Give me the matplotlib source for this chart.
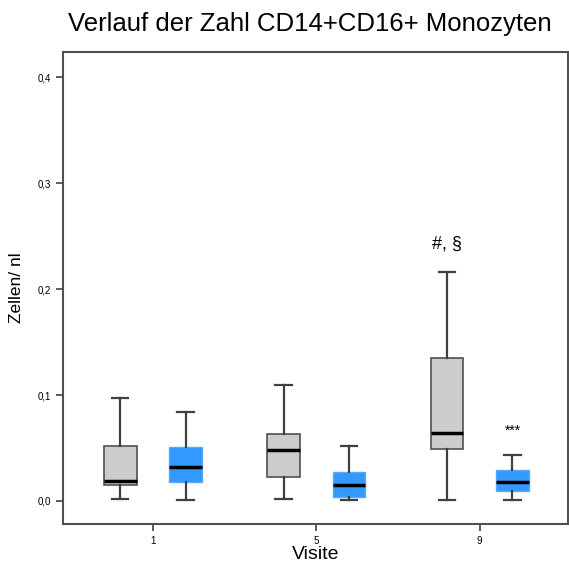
import numpy as np
import matplotlib
matplotlib.use('Agg')
from matplotlib import pyplot

#
# data
#

visits = ['1', '5', '9']

# control group (grey)
grey_whislo = [0.002, 0.002, 0.001]
grey_q1 = [0.015, 0.023, 0.049]
grey_med = [0.019, 0.048, 0.064]
grey_q3 = [0.052, 0.063, 0.135]
grey_whishi = [0.097, 0.109, 0.216]

# treatment group (blue)
blue_whislo = [0.001, 0.001, 0.0005]
blue_q1 = [0.018, 0.0035, 0.0095]
blue_med = [0.032, 0.015, 0.018]
blue_q3 = [0.051, 0.027, 0.029]
blue_whishi = [0.084, 0.052, 0.043]

annotations = [('#, §', 2 - 0.2, 0.242), ('***', 2 + 0.2, 0.066)]


def make_stats(lo, q1, med, q3, hi):
    return [dict(whislo=a, q1=b, med=c, q3=d, whishi=e, fliers=[])
            for a, b, c, d, e in zip(lo, q1, med, q3, hi)]


pyplot.rcParams['font.family'] = ['Liberation Sans', 'DejaVu Sans']

fig = pyplot.figure(figsize=(5.69, 5.65), dpi=100)
ax = fig.add_axes([63 / 569, 41 / 565, 505 / 569, 472 / 565])

pos = np.arange(len(visits))
common = dict(widths=0.2, showfliers=False, patch_artist=True,
              whiskerprops=dict(color='#404040', lw=1.6),
              capprops=dict(color='#404040', lw=1.6),
              medianprops=dict(color='black', lw=2.5))

g = ax.bxp(make_stats(grey_whislo, grey_q1, grey_med, grey_q3, grey_whishi),
           positions=pos - 0.2, **common)
for b in g['boxes']:
    b.set_facecolor('#cccccc')
    b.set_edgecolor('#505050')
    b.set_linewidth(1.2)

bl = ax.bxp(make_stats(blue_whislo, blue_q1, blue_med, blue_q3, blue_whishi),
            positions=pos + 0.2, **common)
for b in bl['boxes']:
    b.set_facecolor('#3399ff')
    b.set_edgecolor('#55aaff')
    b.set_linewidth(1.0)

for txt, x, y in annotations:
    ax.text(x, y, txt, ha='center', va='center', fontsize=13 if '#' in txt else 10)

ax.set_xlim(-0.55, 2.54)
ax.set_ylim(-0.0217, 0.4236)
ax.set_xticks(pos)
ax.set_xticklabels(visits)
ax.set_yticks([0.0, 0.1, 0.2, 0.3, 0.4])
ax.set_yticklabels(['0,0', '0,1', '0,2', '0,3', '0,4'])
ax.tick_params(labelsize=7, direction='out', length=5, color='#404040', width=1.2)

for s in ax.spines.values():
    s.set_color('#505050')
    s.set_linewidth(1.5)

ax.set_xlabel('Visite', fontsize=14, labelpad=0)
ax.set_ylabel('Zellen/ nl', fontsize=12.5, labelpad=10)
fig.text(0.545, 0.958, 'Verlauf der Zahl CD14+CD16+ Monozyten',
         ha='center', va='center', fontsize=18.5)

fig.savefig('out.png', dpi=100)
